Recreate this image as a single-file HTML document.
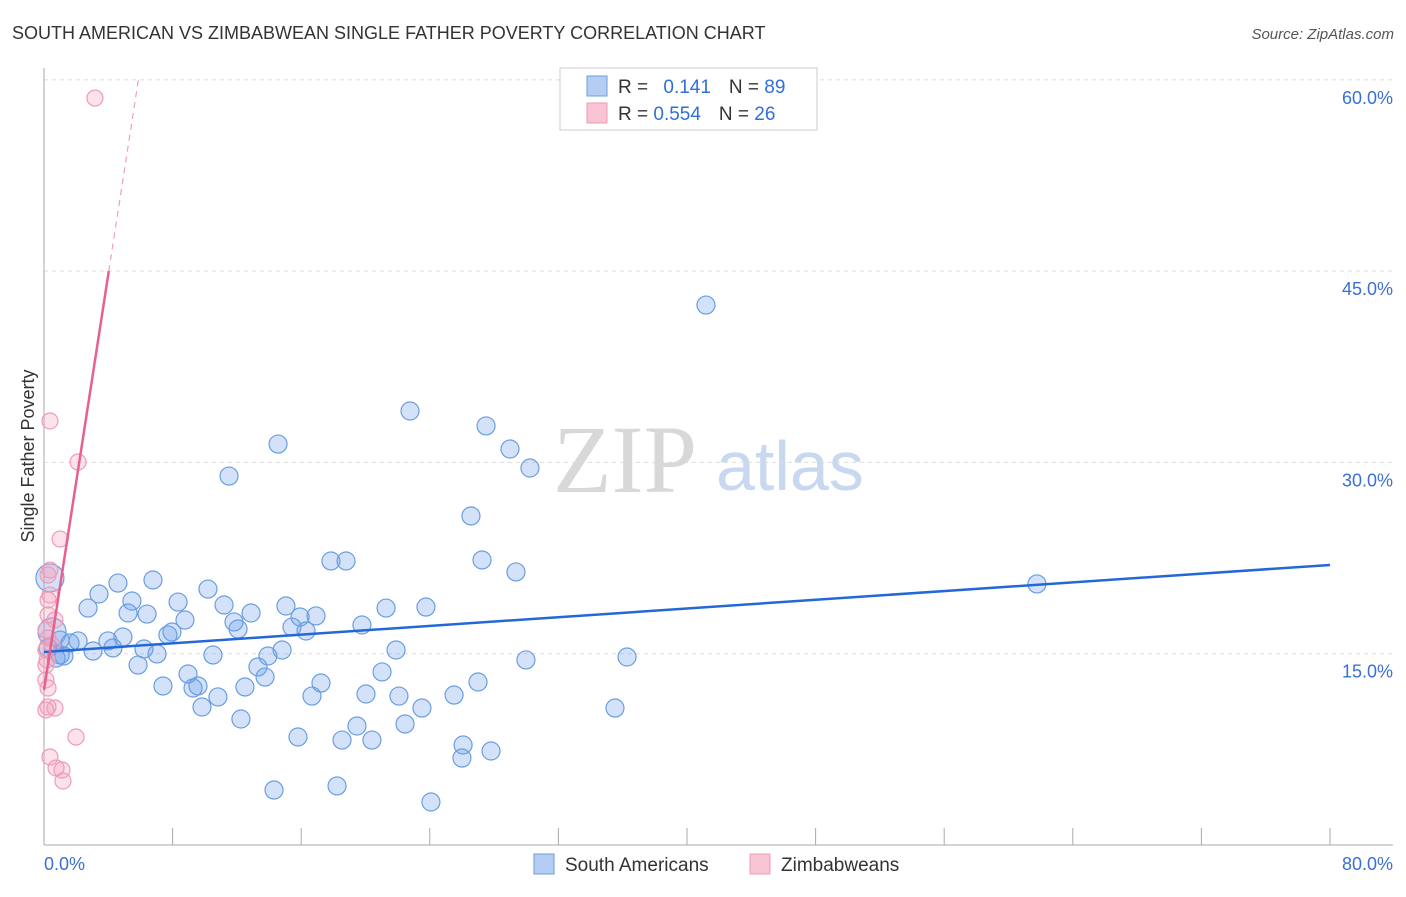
<!DOCTYPE html>
<html><head><meta charset="utf-8"><style>
body{margin:0;background:#fff;font-family:"Liberation Sans",sans-serif}
svg text{font-family:"Liberation Sans",sans-serif}
</style></head><body>
<svg id="chart" width="1406" height="892" viewBox="0 0 1406 892">
<text x="12" y="39" font-size="18" fill="#333">SOUTH AMERICAN VS ZIMBABWEAN SINGLE FATHER POVERTY CORRELATION CHART</text>
<text x="1394" y="39" font-size="15" fill="#555" text-anchor="end" font-style="italic">Source: ZipAtlas.com</text>
<g>
<text x="553" y="492" font-size="96" fill="#d8d8d8" font-family="Liberation Serif" style="font-family:'Liberation Serif',serif">ZIP</text>
<text x="716" y="490" font-size="70" fill="#c8d8f0">atlas</text>
</g>
<g id="grid"></g>
<g id="axes"></g>
<text transform="translate(34,456) rotate(-90)" font-size="18" fill="#333" text-anchor="middle">Single Father Poverty</text>
<g id="pts"></g>
<g id="lines"></g>
<g>
<rect x="560" y="68" width="257" height="62" fill="#fff" stroke="#ccc"/>
<rect x="587" y="76" width="20" height="20" fill="#b5cdf3" stroke="#6a9ee0"/>
<rect x="587" y="103" width="20" height="20" fill="#f8c3d3" stroke="#ee9bb5"/>
<text x="618" y="93" font-size="19" fill="#333">R = <tspan fill="#2f6fd8" dx="10">0.141</tspan><tspan dx="18" fill="#333">N = </tspan><tspan fill="#2f6fd8">89</tspan></text>
<text x="618" y="120" font-size="19" fill="#333">R = <tspan fill="#2f6fd8">0.554</tspan><tspan dx="18" fill="#333">N = </tspan><tspan fill="#2f6fd8">26</tspan></text>
</g>
<g>
<rect x="534" y="854" width="20" height="20" fill="#b5cdf3" stroke="#6a9ee0"/>
<text x="565" y="871" font-size="19" fill="#333">South Americans</text>
<rect x="750" y="854" width="20" height="20" fill="#f8c3d3" stroke="#ee9bb5"/>
<text x="781" y="871" font-size="19" fill="#333">Zimbabweans</text>
</g>
</svg>
<script>
const blueX=[41.18,22.77,27.5,14.56,28.99,30.23,11.51,26.56,17.85,18.79,27.25,29.36,61.77,6.78,4.6,3.42,10.2,5.47,8.34,2.74,5.23,6.41,8.77,11.2,12.88,15.05,15.93,16.92,21.28,23.76,11.82,12.07,15.43,16.3,19.78,7.71,7.96,4.91,3.98,2.12,1.62,1.0,3.05,4.29,6.22,7.03,10.51,13.93,14.81,21.9,29.98,36.27,1.24,0.75,5.85,13.31,8.96,13.75,21.03,17.23,7.4,9.27,9.58,12.5,20.03,16.67,22.08,25.51,27.0,10.82,9.83,23.51,35.52,12.25,19.47,22.46,15.8,18.54,20.4,26.07,27.81,26.0,14.31,18.23,24.07,0.37,0.5,1.0,0.25];
const blueY=[42.34,34.03,32.86,31.44,31.05,29.56,28.93,25.8,22.27,22.27,22.35,21.41,20.47,20.78,20.54,19.68,20.07,19.13,19.05,18.58,18.19,18.11,17.64,18.82,18.19,18.74,17.88,17.96,18.58,18.66,17.49,16.94,17.09,16.78,17.25,16.47,16.7,16.31,16.0,16.0,15.84,16.07,15.21,15.45,15.37,14.98,14.9,14.82,15.29,15.29,14.51,14.74,14.82,14.66,14.11,13.96,13.41,13.17,13.57,12.7,12.47,12.31,12.47,12.39,11.84,11.68,11.68,11.76,12.78,11.61,10.82,10.74,10.74,9.88,9.33,9.49,8.47,8.23,8.23,7.84,7.37,6.82,4.31,4.63,3.37,20.94,16.7,14.9,15.45];
const blueR=blueX.map((x,i)=>i>=85&&i<=86?14:9);
const pinkX=[3.17,0.37,2.12,1.0,0.25,0.37,0.25,0.12,0.25,0.19,0.12,0.25,0.25,0.68,0.12,1.99,0.37,0.75,1.12,1.18,0.12,0.5,0.68,0.25,0.12,0.37];
const pinkY=[58.57,33.25,30.03,23.99,21.17,19.6,18.04,16.86,16.23,14.51,12.94,12.31,10.82,10.74,10.59,8.47,6.9,6.04,5.88,5.02,15.29,15.68,17.64,19.21,14.11,21.56];
const blueTrend=[15.13,21.96];
const pinkTrend=[12.15,8.15];
const yTicks=[15,30,45,60];
const xTicks=[0,8,16,24,32,40,48,56,64,72,80];
const X=v=>44+v*16.075, Y=v=>845-v*12.753;
const NS="http://www.w3.org/2000/svg";
function mk(tag,attrs,parent){const e=document.createElementNS(NS,tag);for(const k in attrs)e.setAttribute(k,attrs[k]);parent.appendChild(e);return e;}
const grid=document.getElementById('grid'),axes=document.getElementById('axes'),pts=document.getElementById('pts'),lines=document.getElementById('lines');
yTicks.forEach(t=>{
 const l=mk('line',{x1:44,x2:1393,y1:Y(t),y2:Y(t),stroke:'#ddd','stroke-dasharray':'4,4'},grid);
 
 
 const tx=mk('text',{x:1393,y:Y(t)+24,'font-size':18,fill:'#3b6fd4','text-anchor':'end'},axes);
 tx.textContent=t.toFixed(1)+'%';
 
 
});
const yl=mk('line',{x1:44,x2:44,y1:68,y2:845,stroke:'#aaa'},axes);


const xl=mk('line',{x1:44,x2:1393,y1:845,y2:845,stroke:'#aaa'},axes);


xTicks.forEach(t=>{
 if(t===0)return;
 const l=mk('line',{x1:X(t),x2:X(t),y1:828,y2:845,stroke:'#aaa'},axes);
 
 
});
[[0,'start',44],[80,'end',1393]].forEach(([v,a,px])=>{
 const tx=mk('text',{x:px,y:870,'font-size':18,fill:'#3b6fd4','text-anchor':a},axes);
 tx.textContent=v.toFixed(1)+'%';
 
 
});
blueX.forEach((x,i)=>{
 const c=mk('circle',{cx:X(x),cy:Y(blueY[i]),r:blueR[i],fill:'rgba(110,160,235,0.3)',stroke:'#6a9ee0','stroke-width':1.2},pts);
 
 
});
pinkX.forEach((x,i)=>{
 const c=mk('circle',{cx:X(x),cy:Y(pinkY[i]),r:8,fill:'rgba(245,160,190,0.3)',stroke:'#ee9bb5','stroke-width':1.2},pts);
 
 
});
const bt=mk('line',{x1:X(0),y1:Y(blueTrend[0]),x2:X(80),y2:Y(blueTrend[1]),stroke:'#2468d8','stroke-width':2.5},lines);


const pEnd=(45-pinkTrend[0])/pinkTrend[1], pMax=(60-pinkTrend[0])/pinkTrend[1];
const pt=mk('line',{x1:X(0),y1:Y(pinkTrend[0]),x2:X(pEnd),y2:Y(45),stroke:'#e8608e','stroke-width':2.5},lines);


const pd=mk('line',{x1:X(pEnd),y1:Y(45),x2:X(pMax),y2:Y(60),stroke:'#eea0b8','stroke-width':1.2,'stroke-dasharray':'6,5'},lines);


</script>
</body></html>
